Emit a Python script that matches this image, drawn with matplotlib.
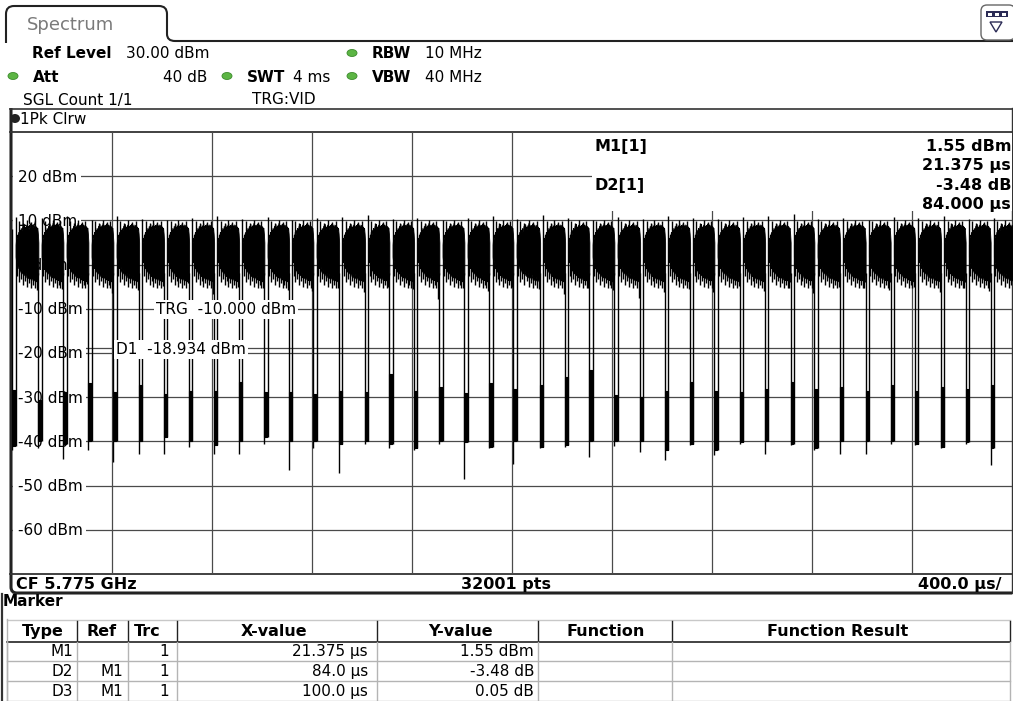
import numpy as np
import matplotlib
matplotlib.use("Agg")
import matplotlib.pyplot as plt
from matplotlib.patches import Rectangle, Ellipse, FancyBboxPatch, PathPatch, Polygon
from matplotlib.path import Path
from matplotlib.transforms import blended_transform_factory, offset_copy

# ---------------------------------------------------------------- data
ref_level_dbm = 30.0
db_per_div = 10.0
n_divs = 10
sweep_time_us = 4000.0
time_per_div_us = 400.0
y_grid_dbm = [20, 10, 0, -10, -20, -30, -40, -50, -60]
y_grid_labels = ["20 dBm", "10 dBm", "0 dBm", "-10 dBm", "-20 dBm",
                 "-30 dBm", "-40 dBm", "-50 dBm", "-60 dBm"]
trigger_level_dbm = -10.0
trigger_label = "TRG  -10.000 dBm"
d1_level_dbm = -18.934
d1_label = "D1  -18.934 dBm"

setting_names = ["Ref Level", "Att", "SWT", "RBW", "VBW"]
setting_values = ["30.00 dBm", "40 dB", "4 ms", "10 MHz", "40 MHz"]
status_texts = ["SGL Count 1/1", "TRG:VID"]
trace_label = "1Pk Clrw"
footer_texts = ["CF 5.775 GHz", "32001 pts", "400.0 \u00b5s/"]

marker_info_names = ["M1[1]", "D2[1]"]
marker_info_values = [["1.55 dBm", "21.375 \u00b5s"], ["-3.48 dB", "84.000 \u00b5s"]]

table_columns = ["Type", "Ref", "Trc", "X-value", "Y-value", "Function", "Function Result"]
mk_type = ["M1", "D2", "D3"]
mk_ref = ["", "M1", "M1"]
mk_trc = ["1", "1", "1"]
mk_x = ["21.375 \u00b5s", "84.0 \u00b5s", "100.0 \u00b5s"]
mk_y = ["1.55 dBm", "-3.48 dB", "0.05 dB"]

# burst gaps (centre time in us)
gap_center_us = [8, 112, 212, 312, 412, 515, 615, 715, 815, 915,
                 1016, 1115, 1212, 1315, 1419, 1516, 1615, 1716, 1816, 1916,
                 2012, 2119, 2219, 2316, 2416, 2519, 2619, 2719, 2816, 2919,
                 3019, 3121, 3216, 3319, 3421, 3521, 3619, 3723, 3821, 3921]
gap_bar_top_dbm = [-28.3, -30.7, -28.8, -26.9, -28.8, -27.3, -29.2, -28.5, -28.5, -26.6,
                   -28.8, -28.8, -29.2, -28.5, -28.8, -24.7, -28.5, -27.7, -29.0, -26.9,
                   -28.1, -27.3, -25.4, -23.9, -29.6, -30.0, -28.5, -26.6, -28.5, -28.8,
                   -28.1, -26.6, -28.1, -27.7, -28.5, -27.3, -28.5, -27.7, -28.1, -27.3]
gap_bar_bottom_dbm = [-41.0, -39.8, -40.5, -39.8, -39.8, -39.8, -39.0, -39.8, -40.9, -39.8,
                      -39.0, -39.8, -39.8, -40.5, -39.8, -40.5, -41.6, -39.8, -40.2, -41.3,
                      -39.8, -41.3, -40.9, -39.8, -39.8, -39.8, -42.0, -40.5, -42.0, -40.2,
                      -39.8, -40.5, -41.6, -39.8, -39.8, -39.8, -40.5, -41.3, -40.2, -41.6]
gap_spike_dbm = [-42.0, -41.6, -44.0, -42.0, -44.7, -42.8, -42.8, -41.3, -42.8, -42.8,
                 -40.5, -46.5, -41.6, -47.2, -40.5, -41.6, -42.0, -40.5, -48.5, -41.6,
                 -45.0, -41.6, -41.3, -43.6, -41.0, -42.4, -44.3, -40.9, -43.0, -40.5,
                 -42.8, -40.9, -42.0, -42.8, -42.8, -40.5, -40.9, -41.6, -40.5, -45.4]
trace_start_dbm = 8.0

# burst after each gap: highest peak and deepest dip
burst_peak_dbm = [10.8, 10.5, 10.9, 10.2, 11.0, 10.4, 10.1, 10.6, 10.9, 10.3,
                  10.7, 10.2, 10.5, 10.8, 11.2, 10.4, 10.6, 10.1, 10.5, 10.9,
                  10.3, 11.3, 10.6, 10.2, 10.8, 10.4, 11.1, 10.5, 10.3, 10.7,
                  10.9, 11.5, 10.4, 10.6, 10.2, 10.8, 10.5, 10.9, 10.3, 10.6]
burst_dip_dbm = [-5.8, -5.5, -4.5, -6.4, -5.8, -4.8, -4.2, -6.6, -5.0, -5.4,
                 -5.8, -6.0, -5.2, -6.2, -5.0, -5.6, -7.8, -5.3, -6.0, -5.1,
                 -5.6, -6.6, -5.4, -5.8, -7.5, -6.2, -5.5, -6.2, -4.8, -6.0,
                 -5.2, -6.4, -5.0, -5.4, -5.8, -5.1, -6.3, -5.2, -6.0, -5.8]

# envelope of a typical burst (offset from burst start, us)
body_offset_us = [0, 2, 4, 6, 8, 10, 12, 14, 16, 18, 20, 22, 24, 26, 28, 30,
                  32, 34, 36, 38, 40, 42, 44, 46, 48, 50, 52, 54, 56, 58, 60,
                  62, 64, 66, 68, 70, 72, 74, 76, 78, 80, 82, 84, 86, 88]
body_hi_dbm = [4.5, 6.0, 5.4, 6.8, 6.2, 7.4, 6.6, 7.0, 7.9, 7.2, 8.3, 7.5, 8.0, 8.8, 7.8,
               8.4, 9.2, 8.1, 8.6, 7.9, 8.9, 8.3, 9.4, 8.4, 8.7, 8.0, 9.0, 8.5, 8.8, 9.3,
               8.2, 8.9, 8.4, 9.1, 8.6, 8.2, 9.0, 8.4, 8.8, 8.1, 8.6, 7.9, 8.3, 7.0, 5.0]
body_lo_dbm = [1.8, 0.6, 1.2, -0.2, 0.5, -0.8, 0.0, -1.2, -0.5, -1.6, -0.8, -1.3, -2.0, -1.0,
               -1.8, -2.4, -1.4, -2.0, -2.6, -1.6, -2.2, -2.9, -1.9, -2.5, -3.0, -2.0, -2.7,
               -3.2, -2.2, -2.8, -3.4, -2.4, -3.0, -3.5, -2.6, -3.1, -3.6, -2.8, -3.3, -3.8,
               -2.9, -3.4, -3.9, -3.0, -2.0]
up_spike_offset_us = [13, 29, 45, 61, 75]
up_spike_dbm = [9.8, 9.5, 10.2, 9.7, 9.9]
down_spike_offset_us = [5, 13, 21, 29, 37, 45, 53, 61, 69, 76]
down_spike_dbm = [-2.6, -4.0, -3.2, -4.6, -3.8, -5.0, -4.2, -5.4, -4.6, -5.2]
dip_offset_us = 83
gap_edge_half_us = 6.5

# ---------------------------------------------------------------- figure
W, H = 1013, 701
fig = plt.figure(figsize=(W / 100, H / 100), dpi=100)
fig.patch.set_facecolor("white")
bg = fig.add_axes([0, 0, 1, 1])
bg.set_xlim(0, W)
bg.set_ylim(H, 0)
bg.axis("off")

PL, PR, PT, PB = 12, 1012, 132, 574
ax = fig.add_axes([PL / W, 1 - PB / H, (PR - PL) / W, (PB - PT) / H])
ax.set_xlim(0, sweep_time_us)
ax.set_ylim(ref_level_dbm - n_divs * db_per_div, ref_level_dbm)
ax.axis("off")

FONT = "DejaVu Sans"
GRID = "#4a4a4a"
FS = 11


def txt(a, x, yc, s, size=FS, weight="normal", ha="left", color="black",
        transform=None, **kw):
    """place text with its cap height centred on yc (pixel coords)"""
    cap = 0.36 * size * 100 / 72
    a.text(x, yc + cap, s, fontsize=size, fontweight=weight, ha=ha, va="baseline",
           color=color, family=FONT,
           transform=bg.transData if transform is None else transform, **kw)


# ---------------------------------------------------------------- header
verts = [(6, 43), (6, 14), (6, 6), (14, 6), (159, 6), (167, 6), (167, 14),
         (167, 34), (167, 41), (175, 41), (1013, 41)]
codes = [Path.MOVETO, Path.LINETO, Path.CURVE3, Path.CURVE3, Path.LINETO,
         Path.CURVE3, Path.CURVE3, Path.LINETO, Path.CURVE3, Path.CURVE3, Path.LINETO]
bg.add_patch(PathPatch(Path(verts, codes), fc="none", ec="#222222", lw=1.5))
txt(bg, 27, 24, "Spectrum", size=13, color="#7a7a7a")

bg.add_patch(FancyBboxPatch((981, 5), 34, 35, boxstyle="round,pad=0,rounding_size=6",
                            fc="white", ec="#666666", lw=1.0))
bg.add_patch(Rectangle((986, 11), 22, 6, fc="#2b2b55", ec="none"))
for bx in (988, 995, 1002):
    bg.add_patch(Rectangle((bx, 12.5), 4, 3, fc="white", ec="none"))
bg.add_patch(Polygon([(990, 22), (1002, 22), (996, 32)], closed=True, fc="white",
                     ec="#2b2b55", lw=1.0))


def green_dot(x, y):
    bg.add_patch(Ellipse((x, y), 10, 7, fc="#5cb544", ec="#3c8a2c", lw=0.6))


txt(bg, 32, 53, setting_names[0], weight="bold")
txt(bg, 126, 53, setting_values[0])
green_dot(352, 53)
txt(bg, 372, 53, setting_names[3], weight="bold")
txt(bg, 425, 53, setting_values[3])
green_dot(13, 76)
txt(bg, 33, 76, setting_names[1], weight="bold")
txt(bg, 207, 76, setting_values[1], ha="right")
green_dot(227, 76)
txt(bg, 247, 76, setting_names[2], weight="bold")
txt(bg, 293, 76, setting_values[2])
green_dot(352, 76)
txt(bg, 372, 76, setting_names[4], weight="bold")
txt(bg, 425, 76, setting_values[4])
txt(bg, 23, 99, status_texts[0])
txt(bg, 252, 99, status_texts[1])

bg.plot([10, 1012], [108.5, 108.5], color="#333333", lw=1.2)
bg.add_patch(Ellipse((15, 118.5), 10, 9, fc="#222222", ec="none"))
txt(bg, 20, 118.5, trace_label)

bg.plot([10, 1012], [131.5, 131.5], color="#333333", lw=1.3)
bg.plot([10, 1012], [574, 574], color="#333333", lw=1.3)
bg.plot([1012, 1012], [108, 593], color="#333333", lw=1.0)
frame = Path([(11, 108), (11, 587), (11, 593), (17, 593), (1012, 593)],
             [Path.MOVETO, Path.LINETO, Path.CURVE3, Path.CURVE3, Path.LINETO])
bg.add_patch(PathPatch(frame, fc="none", ec="#222222", lw=2.2))

txt(bg, 16, 583.5, footer_texts[0], size=11.5, weight="bold")
txt(bg, 506, 583.5, footer_texts[1], size=11.5, weight="bold", ha="center")
txt(bg, 1002, 583.5, footer_texts[2], size=11.5, weight="bold", ha="right")

# ---------------------------------------------------------------- grid + labels
for i in range(1, n_divs):
    ax.axvline(i * time_per_div_us, color=GRID, lw=0.9, zorder=1)
for yv in y_grid_dbm:
    ax.axhline(yv, color=GRID, lw=0.9, zorder=1)
ax.axhline(d1_level_dbm, color=GRID, lw=0.9, zorder=1)

cap_px = 0.36 * FS * 100 / 72
blend = blended_transform_factory(bg.transData, ax.transData)
lab_tr = offset_copy(blend, fig=fig, y=-cap_px, units="dots")
for yv, lab in zip(y_grid_dbm, y_grid_labels):
    ax.add_patch(Rectangle((12.5, yv - 1.3), 8, 2.6, transform=blend, fc="white",
                           ec="none", zorder=2))
    ax.text(18, yv, lab, transform=lab_tr, fontsize=FS, family=FONT, va="baseline",
            zorder=2, bbox=dict(fc="white", ec="none", pad=2.5))

# ---------------------------------------------------------------- trace
lw_tr = 1.0
prev_end = trace_start_dbm
n_g = len(gap_center_us)
for k in range(n_g):
    tc = gap_center_us[k]
    ax.vlines(tc - gap_edge_half_us, gap_spike_dbm[k], prev_end, color="k", lw=lw_tr, zorder=3)
    ax.fill_between([tc - gap_edge_half_us, tc + 3.0], gap_bar_bottom_dbm[k],
                    gap_bar_top_dbm[k], color="k", lw=0.8, zorder=3)
    ax.vlines(tc + gap_edge_half_us, gap_bar_bottom_dbm[k], burst_peak_dbm[k],
              color="k", lw=lw_tr, zorder=3)
    start = tc + gap_edge_half_us
    if k + 1 < n_g:
        end = gap_center_us[k + 1] - gap_edge_half_us
    else:
        end = start + body_offset_us[-1]
    scale = (end - start) / body_offset_us[-1]
    t = start + np.asarray(body_offset_us, dtype=float) * scale
    ax.fill_between(t, body_lo_dbm, body_hi_dbm, color="k", lw=0.6, zorder=3)
    ux = start + np.asarray(up_spike_offset_us, dtype=float) * scale
    ax.vlines(ux, 5.0, up_spike_dbm, color="k", lw=lw_tr, zorder=3)
    dx = start + np.asarray(down_spike_offset_us, dtype=float) * scale
    ax.vlines(dx, down_spike_dbm, 0.0, color="k", lw=lw_tr, zorder=3)
    ax.vlines(start + dip_offset_us * scale, burst_dip_dbm[k], 0.0, color="k",
              lw=lw_tr, zorder=3)
    prev_end = body_lo_dbm[-1]

for yv, lab, x0 in [(trigger_level_dbm, trigger_label, 156), (d1_level_dbm, d1_label, 116)]:
    ax.text(x0, yv, lab, transform=lab_tr, fontsize=FS, family=FONT, va="baseline",
            zorder=5, bbox=dict(fc="white", ec="none", pad=1.5))

ax.add_patch(Rectangle((592, 133), 420, 78, transform=bg.transData, fc="white",
                       ec="none", zorder=6, clip_on=False))
MS = 11.5
txt(ax, 595, 145, marker_info_names[0], size=MS, weight="bold", zorder=7)
txt(ax, 1011, 145, marker_info_values[0][0], size=MS, weight="bold", ha="right", zorder=7)
txt(ax, 1011, 164, marker_info_values[0][1], size=MS, weight="bold", ha="right", zorder=7)
txt(ax, 595, 184, marker_info_names[1], size=MS, weight="bold", zorder=7)
txt(ax, 1011, 184, marker_info_values[1][0], size=MS, weight="bold", ha="right", zorder=7)
txt(ax, 1011, 203, marker_info_values[1][1], size=MS, weight="bold", ha="right", zorder=7)

# ---------------------------------------------------------------- marker table
txt(bg, 3, 601, "Marker", weight="bold")
col_x = [7, 77, 128, 177, 377, 538, 672, 1010]
bg.plot([7, 1010], [619.5, 619.5], color="#c8c8c8", lw=1.0)
bg.plot([7, 1010], [641.5, 641.5], color="#222222", lw=1.2)
for yy in (661, 681, 700.5):
    bg.plot([7, 1010], [yy, yy], color="#b4b4b4", lw=1.0)
for cx in col_x[1:]:
    bg.plot([cx, cx], [621, 641], color="#222222", lw=1.0)
for cx in col_x:
    bg.plot([cx, cx], [642, 701], color="#b4b4b4", lw=1.0)
bg.plot([7, 7], [619, 701], color="#b4b4b4", lw=1.0)
bg.plot([2, 2], [594, 701], color="#333333", lw=1.6)
centers = [43, 102, 147, 274, 461, 606, 838]
for cx, name in zip(centers, table_columns):
    txt(bg, cx, 630, name, size=11.5, weight="bold", ha="center")
row_y = [650.5, 670.5, 690.5]
for i, yy in enumerate(row_y):
    txt(bg, 73, yy, mk_type[i], ha="right")
    txt(bg, 123, yy, mk_ref[i], ha="right")
    txt(bg, 169, yy, mk_trc[i], ha="right")
    txt(bg, 368, yy, mk_x[i], ha="right")
    txt(bg, 534, yy, mk_y[i], ha="right")

fig.savefig("out.png", dpi=100, facecolor="white")
